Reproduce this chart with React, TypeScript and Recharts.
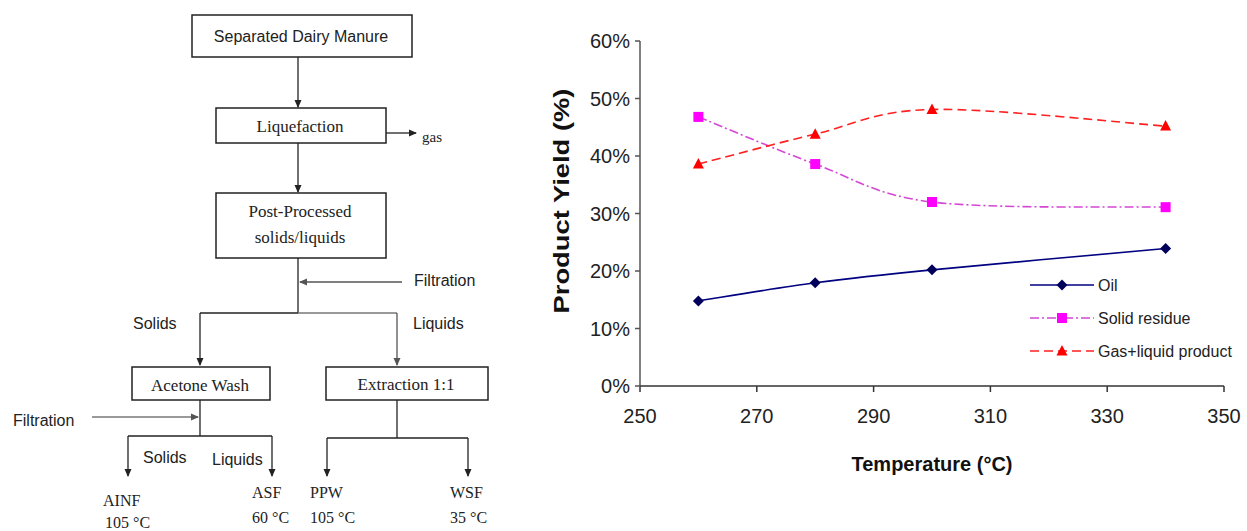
import React from 'react';
import { LineChart, Line, XAxis, YAxis, Legend } from 'recharts';

// ---- data ----
const temperatures = [260, 280, 300, 340];
const oil = [14.8, 17.95, 20.2, 23.9];
const solidResidue = [46.8, 38.6, 32.0, 31.1];
const gasLiquid = [38.6, 43.8, 48.1, 45.2];
const xTicks = [250, 270, 290, 310, 330, 350];
const yTicks = [0, 10, 20, 30, 40, 50, 60];
const seriesNames = ['Oil', 'Solid residue', 'Gas+liquid product'];

const data = temperatures.map((t, i) => ({
  t,
  oil: oil[i],
  solid: solidResidue[i],
  gas: gasLiquid[i],
}));

const FONT = '"Liberation Sans", Arial, sans-serif';
const SERIF = '"Liberation Serif", "Times New Roman", serif';

// Excel-like smoothed curve (Catmull-Rom / Bezier with 1/6 tangents)
function excelCurve(context: any) {
  let pts: number[][] = [];
  return {
    areaStart() {},
    areaEnd() {},
    lineStart() {
      pts = [];
    },
    point(x: number, y: number) {
      pts.push([+x, +y]);
    },
    lineEnd() {
      const n = pts.length;
      if (!n) return;
      context.moveTo(pts[0][0], pts[0][1]);
      for (let i = 0; i < n - 1; i++) {
        const p0 = pts[i - 1] || pts[i];
        const p1 = pts[i];
        const p2 = pts[i + 1];
        const p3 = pts[i + 2] || pts[i + 1];
        context.bezierCurveTo(
          p1[0] + (p2[0] - p0[0]) / 6,
          p1[1] + (p2[1] - p0[1]) / 6,
          p2[0] - (p3[0] - p1[0]) / 6,
          p2[1] - (p3[1] - p1[1]) / 6,
          p2[0],
          p2[1]
        );
      }
    },
  };
}

const Diamond = ({ cx, cy, fill }: any) => (
  <path d={`M${cx},${cy - 5.5} L${cx + 5.5},${cy} L${cx},${cy + 5.5} L${cx - 5.5},${cy} Z`} fill={fill} />
);
const Square = ({ cx, cy, fill }: any) => (
  <rect x={cx - 5} y={cy - 5} width={10} height={10} fill={fill} />
);
const Triangle = ({ cx, cy, fill }: any) => (
  <path d={`M${cx},${cy - 6} L${cx + 5.5},${cy + 4.5} L${cx - 5.5},${cy + 4.5} Z`} fill={fill} />
);

const seriesCfg = [
  { key: 'oil', name: seriesNames[0], stroke: '#000080', marker: '#00005a', dash: undefined, width: 1.6, Shape: Diamond },
  { key: 'solid', name: seriesNames[1], stroke: '#d447d4', marker: '#ff00ff', dash: '9 3 2 3', width: 1.6, Shape: Square },
  { key: 'gas', name: seriesNames[2], stroke: '#ff2020', marker: '#ff0000', dash: '9 5', width: 1.6, Shape: Triangle },
];

const LegendContent = () => (
  <svg width={220} height={100}>
    {seriesCfg.map((s, i) => {
      const y = 13 + i * 33;
      const Shape = s.Shape;
      return (
        <g key={s.key}>
          <line x1={0} y1={y} x2={64} y2={y} stroke={s.stroke} strokeWidth={s.width} strokeDasharray={s.dash} />
          <Shape cx={32} cy={y} fill={s.marker} />
          <text x={68} y={y} dominantBaseline="central" fontFamily={FONT} fontSize={16} fill="#222">
            {s.name}
          </text>
        </g>
      );
    })}
  </svg>
);

const Arrow = ({ x1, y1, x2, y2, color = '#222' }: any) => (
  <line x1={x1} y1={y1} x2={x2} y2={y2} stroke={color} strokeWidth={1.3} markerEnd={color === '#222' ? 'url(#ah)' : 'url(#ahg)'} />
);
const Seg = ({ x1, y1, x2, y2, color = '#222' }: any) => (
  <line x1={x1} y1={y1} x2={x2} y2={y2} stroke={color} strokeWidth={1.3} />
);
const Box = ({ x, y, w, h }: any) => (
  <rect x={x} y={y} width={w} height={h} fill="#fff" stroke="#222" strokeWidth={1.5} />
);
const T = ({ x, y, children, serif = false, size = 16, anchor = 'start' }: any) => (
  <text x={x} y={y} dominantBaseline="central" textAnchor={anchor} fontFamily={serif ? SERIF : FONT} fontSize={size} fill="#222">
    {children}
  </text>
);

const Flowchart = () => (
  <svg width={520} height={531} style={{ position: 'absolute', left: 0, top: 0 }}>
    <defs>
      <marker id="ah" markerWidth={8} markerHeight={8} refX={7} refY={4} orient="auto" markerUnits="userSpaceOnUse">
        <path d="M0,0.5 L8,4 L0,7.5 Z" fill="#222" />
      </marker>
      <marker id="ahg" markerWidth={8} markerHeight={8} refX={7} refY={4} orient="auto" markerUnits="userSpaceOnUse">
        <path d="M0,0.5 L8,4 L0,7.5 Z" fill="#555" />
      </marker>
    </defs>
    <Box x={192} y={15} w={220} h={42} />
    <T x={301} y={36} anchor="middle" size={16}>Separated Dairy Manure</T>
    <Arrow x1={298} y1={57} x2={298} y2={107} />
    <Box x={216} y={108} w={170} h={35} />
    <T x={300} y={126} anchor="middle" serif size={17}>Liquefaction</T>
    <Arrow x1={386} y1={133} x2={416} y2={133} />
    <T x={422} y={137} serif size={15}>gas</T>
    <Arrow x1={298} y1={143} x2={298} y2={192} />
    <Box x={216} y={193} w={170} h={65} />
    <T x={300} y={211} anchor="middle" serif size={17}>Post-Processed</T>
    <T x={300} y={237} anchor="middle" serif size={17}>solids/liquids</T>
    <Seg x1={298} y1={258} x2={298} y2={313} />
    <Arrow x1={402} y1={282} x2={300} y2={282} color="#555" />
    <T x={414} y={280}>Filtration</T>
    <Seg x1={200} y1={313} x2={298} y2={313} />
    <Seg x1={298} y1={313} x2={397} y2={313} color="#777" />
    <Arrow x1={200} y1={313} x2={200} y2={365} />
    <Arrow x1={397} y1={313} x2={397} y2={365} color="#555" />
    <T x={133} y={323}>Solids</T>
    <T x={413} y={323}>Liquids</T>
    <Box x={132} y={367} w={138} h={33} />
    <T x={200} y={385} anchor="middle" serif size={17}>Acetone Wash</T>
    <Box x={326} y={367} w={162} h={33} />
    <T x={406} y={384} anchor="middle" serif size={17}>Extraction 1:1</T>
    <Seg x1={200} y1={400} x2={200} y2={436} />
    <Arrow x1={92} y1={417} x2={198} y2={417} color="#777" />
    <T x={13} y={420}>Filtration</T>
    <Seg x1={128} y1={436} x2={272} y2={436} />
    <Arrow x1={128} y1={436} x2={128} y2={476} />
    <Arrow x1={272} y1={436} x2={272} y2={476} />
    <T x={143} y={457}>Solids</T>
    <T x={212} y={459}>Liquids</T>
    <Seg x1={397} y1={400} x2={397} y2={438} />
    <Seg x1={327} y1={438} x2={468} y2={438} />
    <Arrow x1={327} y1={438} x2={327} y2={476} />
    <Arrow x1={468} y1={438} x2={468} y2={476} />
    <T x={103} y={500} serif size={16}>AINF</T>
    <T x={105} y={522} serif size={16}>105 °C</T>
    <T x={252} y={492} serif size={16}>ASF</T>
    <T x={252} y={517} serif size={16}>60 °C</T>
    <T x={310} y={492} serif size={16}>PPW</T>
    <T x={310} y={517} serif size={16}>105 °C</T>
    <T x={450} y={492} serif size={16}>WSF</T>
    <T x={450} y={517} serif size={16}>35 °C</T>
  </svg>
);

export default function App() {
  return (
    <div style={{ position: 'absolute', left: 0, top: 0, width: 1247, height: 531, background: '#fff', overflow: 'hidden' }}>
      <Flowchart />
      <div style={{ position: 'absolute', left: 500, top: 0 }}>
        <LineChart width={747} height={531} data={data} margin={{ top: 41, right: 23, left: 70, bottom: 85 }}>
          <XAxis
            dataKey="t"
            type="number"
            domain={[250, 350]}
            ticks={xTicks}
            height={60}
            tickSize={6}
            tickMargin={17}
            stroke="#333"
            strokeWidth={1.5}
            tick={{ fontFamily: FONT, fontSize: 20, fill: '#222' }}
            label={{
              content: ({ viewBox }: any) => (
                <text
                  x={viewBox.x + viewBox.width / 2}
                  y={471}
                  textAnchor="middle"
                  fontFamily={FONT}
                  fontWeight="bold"
                  fontSize={20}
                  fill="#111"
                >
                  Temperature (°C)
                </text>
              ),
            }}
          />
          <YAxis
            type="number"
            domain={[0, 60]}
            ticks={yTicks}
            width={70}
            tickSize={5}
            tickMargin={5}
            stroke="#555"
            strokeWidth={1.5}
            tickFormatter={(v: number) => `${v}%`}
            tick={{ fontFamily: FONT, fontSize: 20, fill: '#222' }}
            label={{
              content: () => (
                <text
                  x={61}
                  y={201}
                  transform="rotate(-90, 61, 201)"
                  textAnchor="middle"
                  dominantBaseline="central"
                  fontFamily={FONT}
                  fontWeight="bold"
                  fontSize={22}
                  textLength={225}
                  lengthAdjust="spacingAndGlyphs"
                  fill="#111"
                >
                  Product Yield (%)
                </text>
              ),
            }}
          />
          {seriesCfg.map((s) => {
            const Shape = s.Shape;
            return (
              <Line
                key={s.key}
                dataKey={s.key}
                name={s.name}
                type={excelCurve as any}
                stroke={s.stroke}
                strokeWidth={s.width}
                strokeDasharray={s.dash}
                dot={(p: any) => <Shape key={`${s.key}-${p.index}`} cx={p.cx} cy={p.cy} fill={s.marker} />}
                activeDot={false}
                isAnimationActive={false}
              />
            );
          })}
          <Legend
            layout="vertical"
            align="center"
            verticalAlign="middle"
            content={() => <LegendContent />}
            wrapperStyle={{ position: 'absolute', left: 530, top: 272, width: 220 }}
          />
        </LineChart>
      </div>
    </div>
  );
}
